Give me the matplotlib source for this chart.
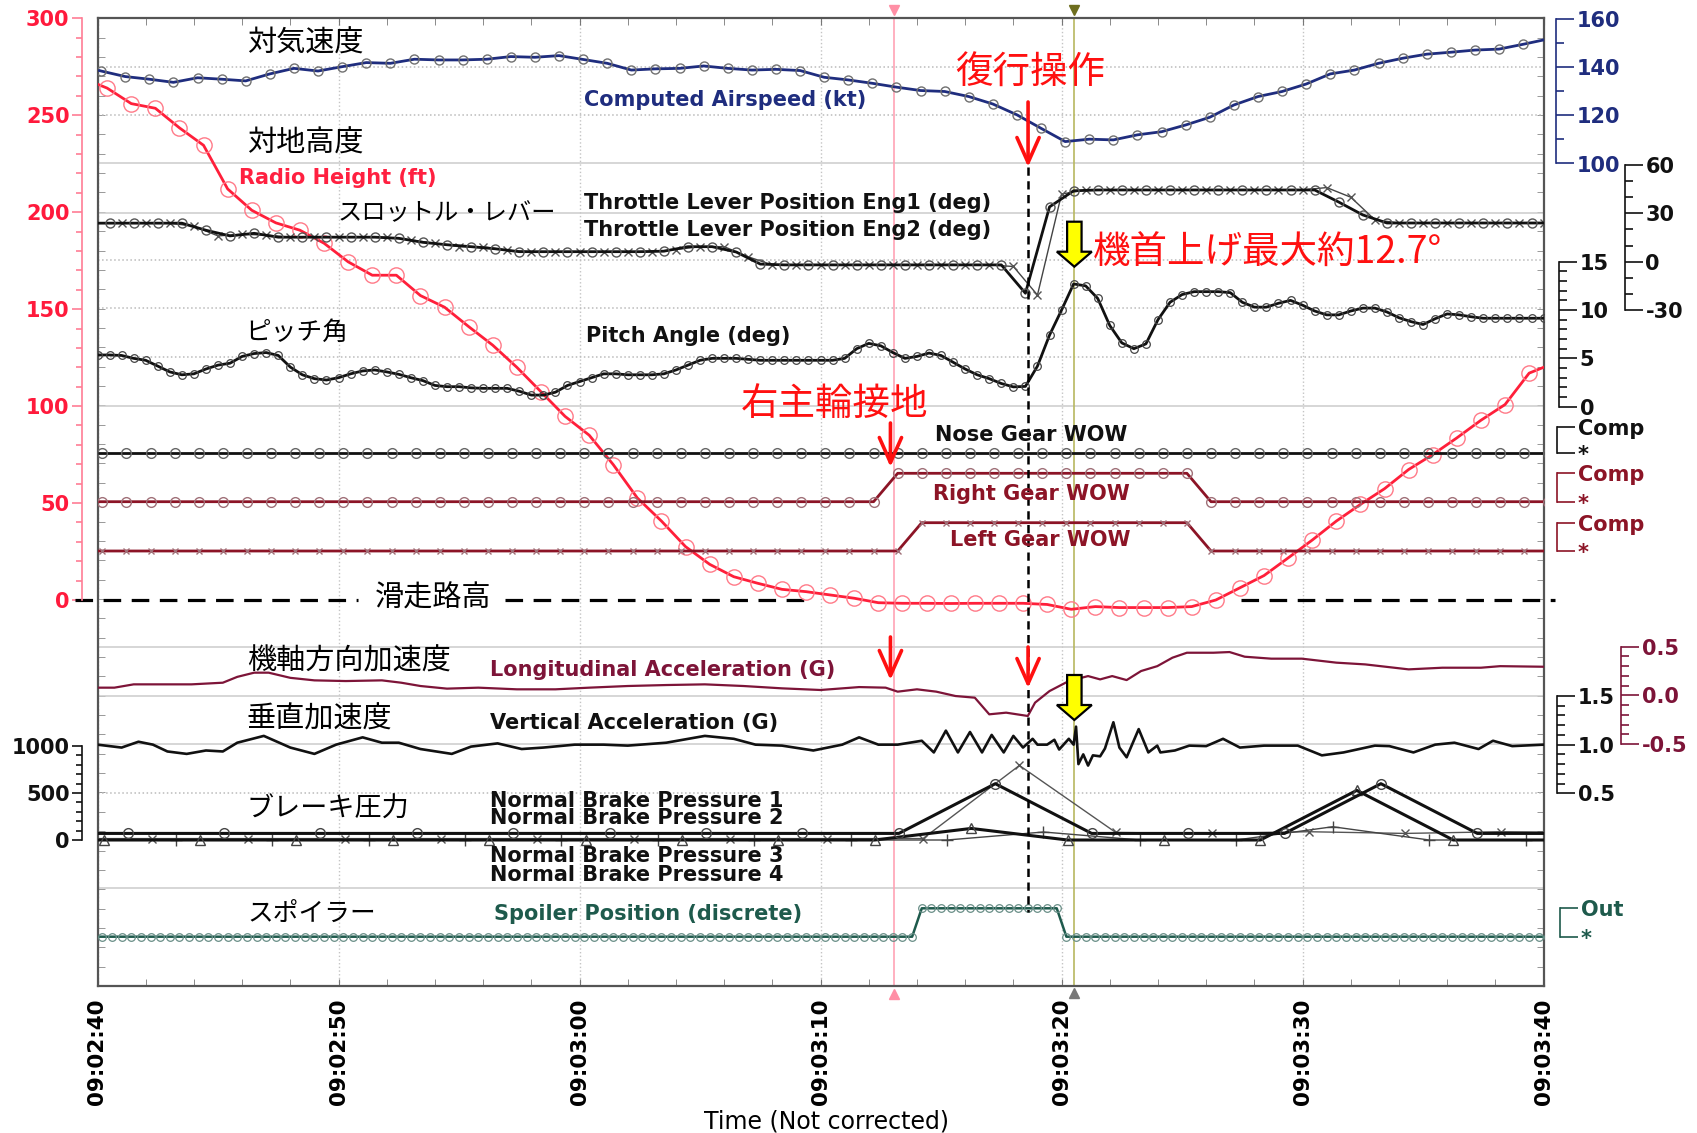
import numpy as np
import matplotlib
matplotlib.use("Agg")
import matplotlib.pyplot as plt
import matplotlib.patches as mpatches

plt.rcParams['font.family'] = ['DejaVu Sans']
JP = ['Noto Sans CJK JP', 'DejaVu Sans']

# ---- recorded parameters, time in seconds after 09:02:40 ----
time_ticks = [0, 10, 20, 30, 40, 50, 60]
time_labels = ['09:02:40', '09:02:50', '09:03:00', '09:03:10',
               '09:03:20', '09:03:30', '09:03:40']

# radio height (ft), 1 Hz
rh_t = np.r_[0, np.arange(60) + 0.4, 60]
rh_ft = [266,
         264, 256, 253.6, 243.5, 234.5, 212, 201, 194.5, 190.7, 184,
         174.4, 167.5, 167.5, 157, 151, 141, 131.4, 120, 107.4, 94.7,
         85, 69.8, 52.6, 40.7, 27.5, 18.4, 12, 8.6, 5.5, 4.3,
         2.6, 0.9, -1.4, -1.7, -1.7, -1.8, -1.7, -1.7, -1.7, -2.3,
         -4.8, -3.4, -3.9, -3.9, -3.9, -3.4, 0, 6.3, 12.6, 21.7,
         30.9, 40.7, 49.3, 57.4, 67.3, 75, 83.6, 92.7, 100.8, 117,
         120]

# computed airspeed (kt), 1 Hz
cas_t = np.r_[0, np.arange(60) + 0.15, 60]
cas_kt = [138.8,
          138.4, 136.1, 135, 133.7, 135.6, 135, 134.3, 137.2, 139.5, 138.4,
          140.2, 141.9, 141.6, 143.3, 143, 143, 143.3, 144.4, 144.1, 144.8,
          143.2, 141.6, 138.8, 139.3, 139.5, 140.5, 139.5, 138.8, 139.1, 138.6,
          135.8, 134.7, 133.3, 131.7, 130.3, 129.9, 127.8, 124.7, 120.2, 114.6,
          109.1, 110.1, 109.8, 111.9, 113.2, 116, 119.2, 124.3, 127.8, 129.9,
          133, 137.2, 138.8, 141.6, 143.7, 145.4, 146.2, 147.1, 147.5, 149.5,
          151.3]

# throttle lever positions (deg)
tla_t1 = np.r_[0, np.arange(60) + 0.5, 60]
tla_eng1 = ([23.9] + [23.9] * 4 + [19.5, 16.0, 17.6] + [15.2] * 5
            + [14.5, 12.0, 10.5, 9.3, 8.0] + [6.2] * 6
            + [6.5, 9.3, 9.3, 6.0, -1.5] + [-2] * 10 + [-19.6, 34, 44]
            + [44.5] * 10 + [37, 29] + [24] * 7 + [24])
tla_t2 = np.r_[0, np.arange(60) + 1.0]
tla_eng2 = ([23.9] + [23.9] * 3 + [22, 16, 17, 16.5] + [15.2] * 5
            + [13.5, 11.4, 9.3, 9.3, 7] + [6.2] * 6 + [7.5, 9.3, 9.3, 3]
            + [-2] * 10 + [-3, -20.7, 42] + [44.5] * 10 + [46, 40, 26]
            + [24] * 7)

# pitch angle (deg), every 0.5 s
pitch_t = np.arange(121) * 0.5
pitch_deg = [5.35, 5.35, 5.3, 5.0, 4.8, 4.2, 3.6, 3.3, 3.4, 3.9,
             4.3, 4.5, 5.2, 5.5, 5.6, 5.3, 4.1, 3.3, 2.9, 2.76,
             3.0, 3.4, 3.7, 3.8, 3.6, 3.35, 3.0, 2.7, 2.2, 2.07,
             2.07, 1.95, 1.9, 1.9, 1.9, 1.6, 1.2, 1.2, 1.5, 2.2,
             2.6, 3.0, 3.4, 3.4, 3.3, 3.3, 3.3, 3.4, 3.8, 4.3,
             4.8, 5.0, 5.0, 5.0, 4.9, 4.8, 4.8, 4.8, 4.8, 4.8,
             4.8, 4.8, 5.0, 6.0, 6.55, 6.3, 5.6, 5.0, 5.2, 5.55,
             5.3, 4.6, 3.9, 3.3, 2.9, 2.4, 2.05, 2.1, 4.2, 7.4,
             10.0, 12.7, 12.5, 11.2, 8.4, 6.6, 6.0, 6.5, 9.0, 10.8,
             11.6, 11.9, 11.9, 11.9, 11.8, 10.8, 10.3, 10.3, 10.7, 11.0,
             10.5, 9.9, 9.5, 9.5, 9.9, 10.2, 10.2, 9.8, 9.2, 8.8,
             8.5, 9.1, 9.6, 9.5, 9.3, 9.15, 9.15, 9.15, 9.15, 9.15,
             9.15]

# weight-on-wheels discretes (0 = air, 1 = compressed), 1 Hz
wow_t = np.arange(62) - 0.8
nose_wow = [0] * 62
right_wow = [0] * 34 + [1] * 13 + [0] * 15
left_wow = [0] * 35 + [1] * 12 + [0] * 15

# longitudinal acceleration (G)
long_t = [0, 0.7, 1.5, 3.9, 5.2, 5.8, 6.5, 7.1, 8.0, 9.0,
          10.3, 11.8, 12.6, 13.4, 14.5, 15.8, 17.4, 19.0, 20.4, 22.0,
          23.6, 25.2, 26.8, 28.4, 30.0, 31.6, 32.7, 33.2, 34.0, 34.8,
          35.6, 36.4, 37.0, 37.7, 38.6, 38.9, 39.5, 40.3, 41.1, 41.6,
          42.1, 42.7, 43.3, 43.97, 44.6, 45.2, 46.3, 46.97, 47.6, 48.7,
          49.97, 51.4, 52.6, 54.4, 55.8, 57.4, 58.2, 60]
long_g = [0.079, 0.079, 0.113, 0.113, 0.13, 0.19, 0.233, 0.233, 0.18, 0.154,
          0.147, 0.154, 0.13, 0.096, 0.069, 0.079, 0.062, 0.062, 0.079, 0.096,
          0.106, 0.113, 0.096, 0.072, 0.055, 0.085, 0.079, 0.038, 0.062, 0.038,
          -0.007, -0.024, -0.195, -0.178, -0.212, -0.075, 0.044, 0.147, 0.198, 0.164,
          0.198, 0.157, 0.25, 0.30, 0.387, 0.438, 0.438, 0.445, 0.397, 0.377,
          0.377, 0.336, 0.318, 0.267, 0.284, 0.284, 0.30, 0.294]

# vertical acceleration (G)
vert_t = [0, 1.0, 1.7, 2.3, 2.9, 3.7, 4.5, 5.2, 5.8, 6.9,
          8.0, 9.0, 9.9, 11.0, 11.8, 12.5, 13.4, 14.7, 15.5, 16.6,
          17.6, 18.5, 19.8, 21.0, 22.0, 23.6, 25.2, 26.4, 27.3, 28.4,
          29.7, 30.9, 31.6, 32.4, 33.2, 34.2, 34.7, 35.2, 35.7, 36.2,
          36.7, 37.1, 37.6, 38.0, 38.4, 38.8, 39.0, 39.4, 39.7, 39.9,
          40.3, 40.5, 40.6, 40.7, 40.9, 41.1, 41.3, 41.6, 41.8, 42.15,
          42.4, 42.7, 43.2, 43.6, 43.97, 44.1, 44.7, 45.3, 46.0, 46.7,
          47.4, 48.4, 49.8, 50.8, 51.7, 53.0, 53.6, 54.6, 55.5, 56.3,
          57.3, 57.9, 58.7, 60.0]
vert_g = [1.0, 0.97, 1.03, 1.0, 0.93, 0.905, 0.94, 0.93, 1.02, 1.09,
          0.97, 0.905, 1.0, 1.075, 1.02, 1.02, 0.955, 0.905, 0.98, 1.013,
          0.955, 0.97, 1.0, 1.0, 0.99, 1.02, 1.09, 1.06, 1.0, 0.99,
          0.94, 1.0, 1.075, 1.0, 1.0, 1.04, 0.92, 1.144, 0.92, 1.13,
          0.92, 1.1, 0.92, 1.09, 0.97, 1.06, 1.0, 1.0, 1.05, 0.95,
          1.06, 1.0, 1.185, 0.80, 0.9, 0.785, 0.89, 0.88, 0.96, 1.23,
          0.97, 0.87, 1.16, 0.92, 0.99, 0.92, 0.94, 0.99, 0.985, 1.06,
          0.97, 0.99, 0.99, 0.89, 0.92, 0.99, 0.985, 0.92, 1.0, 1.02,
          0.955, 1.04, 0.985, 1.0]

# normal brake pressures (psi), one sample every 4 s each
bp1_t = np.arange(-1, 16) * 4 + 1.25
bp1 = [70] * 10 + [599] + [70] * 3 + [599] + [70] * 2
bp2_t = np.arange(-1, 16) * 4 + 2.25
bp2 = [15] * 10 + [793, 80, 70, 88, 70, 88, 80]
bp3_t = np.arange(-1, 16) * 4 + 3.25
bp3 = [0] * 10 + [85, 0, 0, 141, 0, 0, 0]
bp4_t = np.arange(-1, 16) * 4 + 0.25
bp4 = [0] * 10 + [123, 0, 0, 0, 528, 0, 0]

# spoiler position discrete (0 = stowed, 1 = out)
spoiler_t = np.arange(152) * 0.4 - 0.2
spoiler_out = [0] * 86 + [1] * 15 + [0] * 51

# event cursors
cursor_touch = 33.05
cursor_pitch = 40.53
goaround_t = 38.61

# ---- layout (pixels) ----
W, H = 1697, 1133
PL, PR, PT, PB = 97.5, 1543.6, 18.3, 986.0
RECT = [PL / W, 1 - PB / H, (PR - PL) / W, (PB - PT) / H]

RED = '#ff1010'
NAVY = '#1f2d7e'
GEAR = '#8c1426'
MAROON = '#7d1438'
TEAL = '#1e5a4c'

fig = plt.figure(figsize=(W / 100, H / 100), dpi=100)

ax = fig.add_axes(RECT)
ax.set_xlim(0, 60)
ax.set_ylim(PB, PT)
for sp in ax.spines.values():
    sp.set_color('#555555')
    sp.set_linewidth(1.6)
ax.set_xticks(time_ticks, time_labels, rotation=90, fontsize=15.5,
              fontweight='bold')
ax.set_xticks(np.arange(0, 61, 2), minor=True)
ax.tick_params(axis='x', which='both', direction='in', top=True, length=5,
               color='#777777', pad=9)
ax.set_yticks([])
ax.set_yticks(np.linspace(PT, PB, 51), minor=True)
ax.tick_params(axis='y', which='minor', direction='in', left=True,
               right=True, length=5, color='#888888')
ax.grid(axis='x', which='major', color='#c4c4c4', linestyle=':', lw=1)
for y in [163.3, 213.3, 406, 646.7, 696, 744, 888.3]:
    ax.axhline(y, color='#cccccc', lw=1.1)
for y in [66.7, 115, 260, 308.3, 356.7, 793.3]:
    ax.axhline(y, color='#bbbbbb', lw=1.1, linestyle=':')
ax.axvline(cursor_touch, color='#ffa3b5', lw=1.2)
ax.axvline(cursor_pitch, color='#b8b860', lw=1.2)


def at_x(px):
    return (px - PL) / (PR - PL)


def layer(va, ya, vb, yb):
    a = fig.add_axes(RECT)
    s = (vb - va) / (yb - ya)
    a.set_ylim(va + (PB - ya) * s, va + (PT - ya) * s)
    a.set_xlim(0, 60)
    a.patch.set_visible(False)
    for sp in a.spines.values():
        sp.set_visible(False)
    a.set_xticks([])
    a.tick_params(axis='y', which='both', left=False, right=False,
                  labelleft=False, labelright=False)
    return a


def scale(a, side, xpx, majors, labels, minors, color, label_color=None,
          length=13, minor_length=5.5):
    label_color = label_color or color
    sp = a.spines[side]
    sp.set_visible(True)
    sp.set_position(('axes', at_x(xpx)))
    sp.set_bounds(min(majors), max(majors))
    sp.set_color(color)
    sp.set_linewidth(1.2)
    a.set_yticks(majors, labels)
    a.set_yticks(minors, minor=True)
    right = side == 'right'
    a.tick_params(axis='y', which='both', direction='out', color=color,
                  width=1.2, left=not right, right=right,
                  labelleft=not right, labelright=right)
    a.tick_params(axis='y', which='major', length=length, labelsize=15,
                  labelcolor=label_color, pad=2)
    a.tick_params(axis='y', which='minor', length=minor_length)
    for lab in a.get_yticklabels():
        lab.set_fontweight('bold')


# radio height
ax_rh = layer(0, 600, 300, 18.3)
scale(ax_rh, 'left', 82, list(range(0, 301, 50)),
      [str(v) for v in range(0, 301, 50)], list(range(0, 301, 10)),
      '#ff7d95', '#ff1a3c', length=7, minor_length=4.5)
for a, b in [(-0.93, 10.81), (16.91, 29.73), (47.45, 60.48)]:
    ax_rh.plot([a, b], [0, 0], color='k', lw=2.3, ls=(0, (5.5, 3.3)),
               clip_on=False)
ax_rh.plot(rh_t, rh_ft, color='#ff1f3a', lw=2.0, marker='o', ms=11,
           mfc='none', mec='#ff7a88', mew=1.0, markevery=slice(1, -1))

# computed airspeed
ax_cas = layer(160, 19, 100, 163.5)
scale(ax_cas, 'right', 1555.7, [100, 120, 140, 160],
      ['100', '120', '140', '160'], list(range(100, 161, 10)), NAVY)
ax_cas.plot(cas_t, cas_kt, color=NAVY, lw=2.0, marker='o', ms=6.5,
            mfc='none', mec='#707070', mew=1.0, markevery=slice(1, -1))

# throttle levers
ax_tla = layer(60, 165, -30, 310)
scale(ax_tla, 'right', 1624.6, [-30, 0, 30, 60], ['-30', '0', '30', '60'],
      list(range(-30, 61, 10)), '#111111')
ax_tla.plot(tla_t2, tla_eng2, color='#444444', lw=1.0, marker='x', ms=5.5,
            mec='#555555', mew=1.0, markevery=slice(1, None))
ax_tla.plot(tla_t1, tla_eng1, color='#111111', lw=2.0, marker='o', ms=6.5,
            mfc='none', mec='#555555', mew=1.0, markevery=slice(1, -1))

# pitch angle
ax_pitch = layer(15, 261.7, 0, 406.7)
scale(ax_pitch, 'right', 1558.7, [0, 5, 10, 15], ['0', '5', '10', '15'],
      list(range(0, 16)), '#111111')
ax_pitch.plot(pitch_t, pitch_deg, color='#111111', lw=2.0, marker='o',
              ms=5.5, mfc='none', mec='#444444', mew=0.9)

# weight on wheels
ax_nose = layer(0, 452.7, 1, 426.7)
scale(ax_nose, 'right', 1557, [0, 1], ['*', 'Comp'], [], '#111111')
ax_nose.plot(wow_t, nose_wow, color='#111111', lw=2.0, marker='o', ms=7,
             mfc='none', mec='#666666', mew=1.0)
ax_rg = layer(0, 501.7, 1, 473.3)
scale(ax_rg, 'right', 1557, [0, 1], ['*', 'Comp'], [], GEAR)
ax_rg.plot(wow_t, right_wow, color=GEAR, lw=2.0, marker='o', ms=7,
           mfc='none', mec='#a07078', mew=1.0)
ax_lg = layer(0, 551, 1, 522.7)
scale(ax_lg, 'right', 1557, [0, 1], ['*', 'Comp'], [], GEAR)
ax_lg.plot(wow_t, left_wow, color=GEAR, lw=2.0, marker='x', ms=5,
           mec='#a07078', mew=1.0)

# longitudinal acceleration
ax_long = layer(0.5, 646.7, -0.5, 744)
scale(ax_long, 'right', 1620.8, [-0.5, 0.0, 0.5], ['-0.5', '0.0', '0.5'],
      list(np.arange(-5, 6) / 10), MAROON)
ax_long.plot(long_t, long_g, color=MAROON, lw=1.6)

# vertical acceleration
ax_vert = layer(1.5, 696, 0.5, 793.3)
scale(ax_vert, 'right', 1557, [0.5, 1.0, 1.5], ['0.5', '1.0', '1.5'],
      list(np.arange(5, 16) / 10), '#111111')
ax_vert.plot(vert_t, vert_g, color='#111111', lw=1.9)

# brake pressures
ax_bp = layer(1000, 746, 0, 840)
scale(ax_bp, 'left', 82, [0, 500, 1000], ['0', '500', '1000'],
      list(range(0, 1001, 100)), '#111111', length=7, minor_length=4.5)
ax_bp.plot(bp2_t, bp2, color='#555555', lw=1.0, marker='x', ms=6,
           mec='#555555', mew=1.0)
ax_bp.plot(bp3_t, bp3, color='#444444', lw=1.0, marker='+', ms=8,
           mec='#444444', mew=1.0)
ax_bp.plot(bp4_t, bp4, color='#111111', lw=2.2, marker='^', ms=7,
           mfc='none', mec='#444444', mew=1.0)
ax_bp.plot(bp1_t, bp1, color='#111111', lw=2.2, marker='o', ms=7,
           mfc='none', mec='#444444', mew=1.0)

# spoiler
ax_sp = layer(0, 936.7, 1, 908.3)
scale(ax_sp, 'right', 1560, [0, 1], ['*', 'Out'], [], TEAL)
ax_sp.plot(spoiler_t, spoiler_out, color=TEAL, lw=1.8, marker='o', ms=5.5,
           mfc='none', mec='#6a8f88', mew=0.9)

# ---- annotation layer on top ----
top = fig.add_axes(RECT)
top.set_xlim(0, 60)
top.set_ylim(PB, PT)
top.axis('off')


def jp(t, y, s, size=21, color='k'):
    top.text(t, y, s, fontsize=size, color=color, family=JP,
             ha='left', va='center')


def en(t, y, s, color='#111111', spacing=1.2):
    top.text(t, y, s, fontsize=15, fontweight='bold', color=color,
             ha='left', va='center', linespacing=spacing)


def red_arrow(t, y0, y1):
    top.annotate('', xy=(t, y1), xytext=(t, y0),
                 arrowprops=dict(arrowstyle='->,head_length=0.9,head_width=0.4',
                                 color=RED, lw=2.6, shrinkA=0, shrinkB=0,
                                 mutation_scale=20))


def yellow_arrow(t, y0, y1):
    top.add_patch(mpatches.FancyArrow(t, y0, 0, y1 - y0, width=0.6,
                                      head_width=1.45, head_length=15,
                                      length_includes_head=True,
                                      fc='#ffff00', ec='k', lw=1.6))


jp(6.2, 44, '対気速度')
jp(6.2, 144, '対地高度')
jp(9.94, 213, 'スロットル・レバー', size=17.5)
jp(6.12, 333, 'ピッチ角', size=18.5)
jp(11.51, 599, '滑走路高')
jp(6.2, 662, '機軸方向加速度')
jp(6.2, 720, '垂直加速度')
jp(6.2, 809, 'ブレーキ圧力', size=19.5)
jp(6.2, 914, 'スポイラー', size=18.5)

jp(35.6, 73, '復行操作', size=27, color=RED)
jp(41.3, 253, '機首上げ最大約12.7°', size=27, color=RED)
jp(26.7, 404, '右主輪接地', size=27, color=RED)

en(20.2, 100, 'Computed Airspeed (kt)', NAVY)
en(5.87, 178, 'Radio Height (ft)', '#ff2040')
en(20.19, 216.5, 'Throttle Lever Position Eng1 (deg)\n'
                 'Throttle Lever Position Eng2 (deg)', spacing=1.4)
en(20.27, 336, 'Pitch Angle (deg)')
en(34.73, 435, 'Nose Gear WOW')
en(34.65, 494, 'Right Gear WOW', GEAR)
en(35.37, 540, 'Left Gear WOW', GEAR)
en(16.29, 670, 'Longitudinal Acceleration (G)', MAROON)
en(16.29, 723, 'Vertical Acceleration (G)')
en(16.29, 809.5, 'Normal Brake Pressure 1\nNormal Brake Pressure 2',
   spacing=0.82)
en(16.29, 865.5, 'Normal Brake Pressure 3\nNormal Brake Pressure 4',
   spacing=0.92)
en(16.45, 914, 'Spoiler Position (discrete)', TEAL)

top.plot([goaround_t, goaround_t], [167, 912], color='k', lw=1.8,
         ls=(0, (3.3, 2.2)))
red_arrow(goaround_t, 102, 167)
red_arrow(32.9, 423, 467)
red_arrow(32.9, 637, 680)
red_arrow(goaround_t, 647, 688)
yellow_arrow(cursor_pitch, 221.7, 266.7)
yellow_arrow(cursor_pitch, 675, 720)

top.plot(cursor_touch, 10, marker='v', color='#ff8fa5', ms=7, clip_on=False)
top.plot(cursor_touch, 994, marker='^', color='#ff8fa5', ms=7, clip_on=False)
top.plot(cursor_pitch, 10, marker='v', color='#6e6e1e', ms=7, clip_on=False)
top.plot(cursor_pitch, 993, marker='^', color='#777777', ms=7, clip_on=False)

fig.text(826 / W, 1 - 1121 / H, 'Time (Not corrected)', ha='center',
         va='center', fontsize=17)

fig.savefig('out.png', dpi=100, facecolor='white')
